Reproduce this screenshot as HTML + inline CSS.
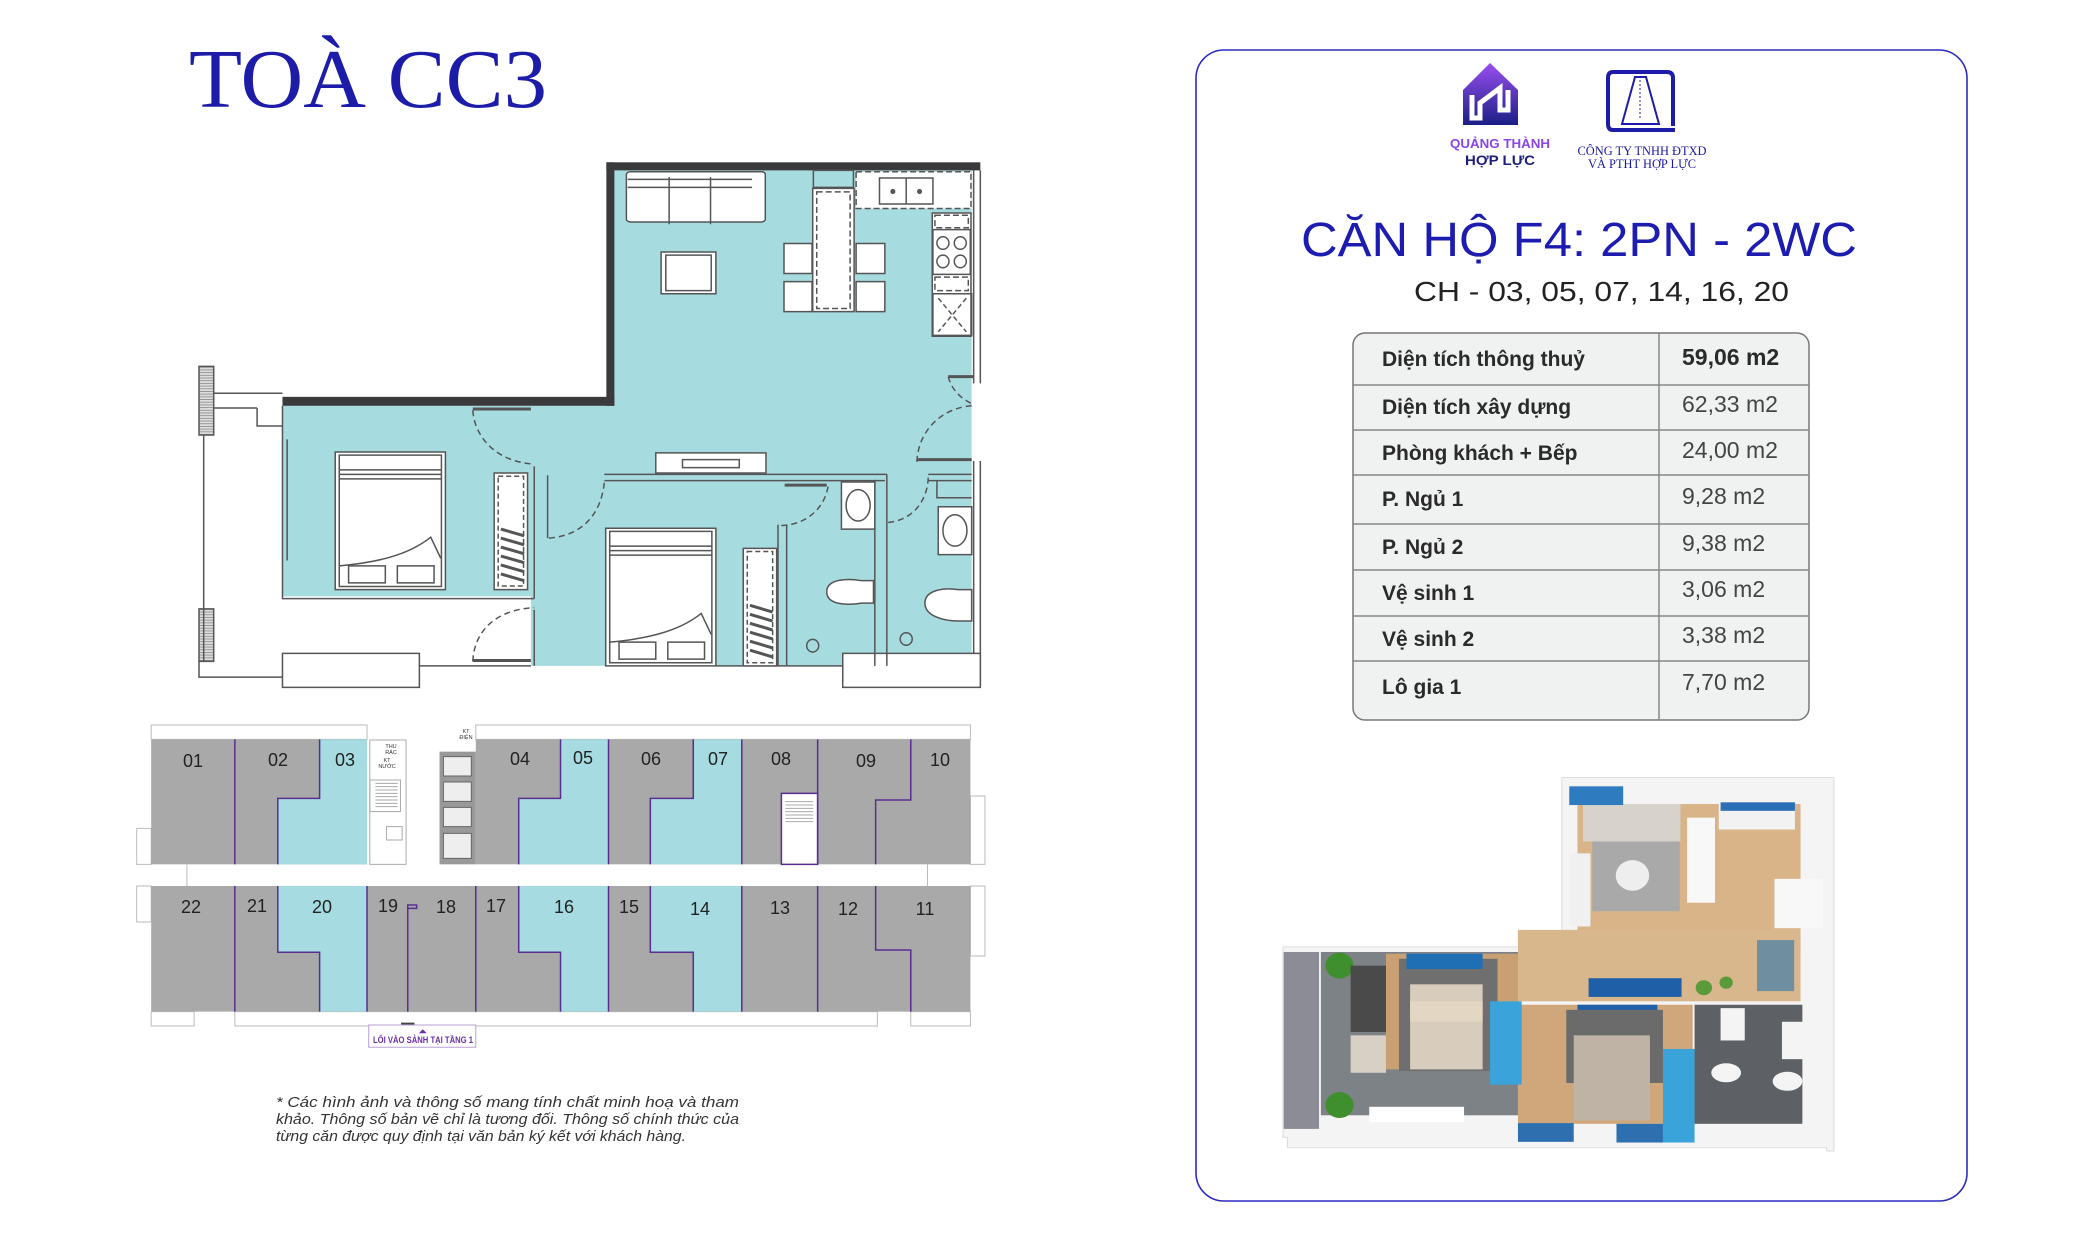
<!DOCTYPE html>
<html><head><meta charset="utf-8"><style>
html,body{margin:0;padding:0;background:#fff;width:2084px;height:1251px;overflow:hidden}
svg{display:block}
</style></head><body>
<svg width="2084" height="1251" viewBox="0 0 2084 1251" xmlns="http://www.w3.org/2000/svg">
<defs>
<linearGradient id="lg1" x1="0" y1="0" x2="0" y2="1"><stop offset="0" stop-color="#9a4ef0"/><stop offset="1" stop-color="#1b1f86"/></linearGradient>
<pattern id="hatch" width="6" height="6" patternUnits="userSpaceOnUse"><rect width="6" height="6" fill="#ddd"/><path d="M0 3H6" stroke="#777" stroke-width="1.5"/></pattern>
</defs>
<rect width="2084" height="1251" fill="#fff"/>

<!-- Title -->
<text x="189" y="107" font-family="Liberation Serif, serif" font-size="84" fill="#1c1ca8" textLength="358" lengthAdjust="spacingAndGlyphs">TOÀ CC3</text>

<!-- Floor plan (zoom1 coords) -->
<g transform="scale(0.6678,0.4484)" stroke="#555" stroke-width="1.5" fill="none">
 <g vector-effect="non-scaling-stroke">
  <polygon points="918,380 1455,380 1455,1485 795,1485 795,1330 423,1330 423,905 918,905" fill="#a6dbe0" stroke="none"/>
  <rect x="908" y="362" width="560" height="18" fill="#3a3a3c" stroke="none"/>
  <rect x="908" y="362" width="12" height="543" fill="#3a3a3c" stroke="none"/>
  <rect x="423" y="885" width="497" height="20" fill="#3a3a3c" stroke="none"/>
 </g>
 <g style="vector-effect:non-scaling-stroke">
  <path vector-effect="non-scaling-stroke" d="M1458 380V855 M1468 380V855 M1458 1028V1530 M1468 1028V1530"/>
  <rect vector-effect="non-scaling-stroke" x="298" y="817" width="22" height="153" fill="url(#hatch)"/>
  <rect vector-effect="non-scaling-stroke" x="298" y="1358" width="22" height="117" fill="url(#hatch)"/>
  <path vector-effect="non-scaling-stroke" d="M305 970V1475 M320 877H423 M320 910H385 M298 1475V1510H423 M385 910V950H423"/>
  <rect vector-effect="non-scaling-stroke" x="423" y="1457" width="205" height="76" fill="#fff"/>
  <rect vector-effect="non-scaling-stroke" x="1262" y="1457" width="206" height="76" fill="#fff"/>
  <path vector-effect="non-scaling-stroke" d="M628 1485H795 M1072 1485H1262"/>
  <path vector-effect="non-scaling-stroke" d="M423 905V1335H800 M430 980V1250 M800 1040V1335 M800 1360V1485 M820 1060V1200"/>
  <path vector-effect="non-scaling-stroke" d="M905 1058H1328 M905 1072H1325 M1310 1070V1485 M1328 1058V1485 M1165 1170V1485 M1178 1170V1485 M1390 1058H1455 M1390 1072H1455 M1403 1072V1110H1455"/>
  <rect vector-effect="non-scaling-stroke" x="938" y="383" width="208" height="112" fill="#fff" rx="6"/>
  <path vector-effect="non-scaling-stroke" d="M940 400H1126 M940 418H1126 M1002 395V500 M1064 395V500"/>
  <rect vector-effect="non-scaling-stroke" x="990" y="562" width="82" height="93" fill="#fff"/><rect vector-effect="non-scaling-stroke" x="997" y="569" width="68" height="79"/>
  <rect vector-effect="non-scaling-stroke" x="1174" y="543" width="42" height="67" fill="#fff"/><rect vector-effect="non-scaling-stroke" x="1282" y="543" width="43" height="67" fill="#fff"/>
  <rect vector-effect="non-scaling-stroke" x="1174" y="628" width="42" height="67" fill="#fff"/><rect vector-effect="non-scaling-stroke" x="1282" y="628" width="43" height="67" fill="#fff"/>
  <rect vector-effect="non-scaling-stroke" x="1217" y="420" width="62" height="275" fill="#fff"/>
  <rect vector-effect="non-scaling-stroke" x="1223" y="428" width="50" height="260" stroke-dasharray="6 3"/>
  <rect vector-effect="non-scaling-stroke" x="1218" y="380" width="60" height="38" fill="#a6dbe0"/>
  <rect vector-effect="non-scaling-stroke" x="1282" y="383" width="172" height="82" fill="#fff" stroke-dasharray="6 3"/>
  <rect vector-effect="non-scaling-stroke" x="1317" y="397" width="80" height="58"/><path vector-effect="non-scaling-stroke" d="M1357 397V455"/>
  <ellipse cx="1337" cy="427" rx="3" ry="5" fill="#555"/><ellipse cx="1377" cy="427" rx="3" ry="5" fill="#555"/>
  <rect vector-effect="non-scaling-stroke" x="1396" y="475" width="58" height="275" fill="#fff"/>
  <rect vector-effect="non-scaling-stroke" x="1400" y="480" width="50" height="28" stroke-dasharray="6 3"/>
  <rect vector-effect="non-scaling-stroke" x="1397" y="512" width="56" height="100"/>
  <ellipse vector-effect="non-scaling-stroke" cx="1412" cy="542" rx="9" ry="14"/><ellipse vector-effect="non-scaling-stroke" cx="1438" cy="542" rx="9" ry="14"/><ellipse vector-effect="non-scaling-stroke" cx="1412" cy="583" rx="9" ry="14"/><ellipse vector-effect="non-scaling-stroke" cx="1438" cy="583" rx="9" ry="14"/>
  <rect vector-effect="non-scaling-stroke" x="1400" y="618" width="50" height="30" stroke-dasharray="6 3"/>
  <rect vector-effect="non-scaling-stroke" x="1397" y="655" width="58" height="93"/><path vector-effect="non-scaling-stroke" d="M1405 665L1447 740 M1447 665L1405 740" stroke-dasharray="5 3"/>
  <rect vector-effect="non-scaling-stroke" x="502" y="1008" width="165" height="307" fill="#fff"/>
  <rect vector-effect="non-scaling-stroke" x="508" y="1015" width="153" height="293"/>
  <path vector-effect="non-scaling-stroke" d="M508 1048H661 M508 1058H661 M508 1068H661 M508 1262C560 1255 610 1240 645 1198 L660 1245"/>
  <rect vector-effect="non-scaling-stroke" x="522" y="1262" width="55" height="38"/><rect vector-effect="non-scaling-stroke" x="595" y="1262" width="55" height="38"/>
  <rect vector-effect="non-scaling-stroke" x="740" y="1055" width="50" height="260" fill="#fff"/><rect vector-effect="non-scaling-stroke" x="746" y="1062" width="38" height="245" stroke-dasharray="5 3"/>
  <path vector-effect="non-scaling-stroke" stroke-width="3" d="M750 1180L785 1195M750 1200L785 1215M750 1220L785 1235M750 1240L785 1255M750 1260L785 1275M750 1280L785 1295"/>
  <rect vector-effect="non-scaling-stroke" x="907" y="1178" width="165" height="307" fill="#fff"/>
  <rect vector-effect="non-scaling-stroke" x="913" y="1185" width="153" height="293"/>
  <path vector-effect="non-scaling-stroke" d="M913 1218H1066 M913 1228H1066 M913 1238H1066 M913 1432C965 1425 1015 1410 1050 1368 L1065 1415"/>
  <rect vector-effect="non-scaling-stroke" x="927" y="1432" width="55" height="38"/><rect vector-effect="non-scaling-stroke" x="1000" y="1432" width="55" height="38"/>
  <rect vector-effect="non-scaling-stroke" x="1113" y="1223" width="50" height="262" fill="#fff"/><rect vector-effect="non-scaling-stroke" x="1119" y="1230" width="38" height="248" stroke-dasharray="5 3"/>
  <path vector-effect="non-scaling-stroke" stroke-width="3" d="M1123 1350L1157 1365M1123 1370L1157 1385M1123 1390L1157 1405M1123 1410L1157 1425M1123 1430L1157 1445M1123 1450L1157 1465"/>
  <rect vector-effect="non-scaling-stroke" x="982" y="1010" width="165" height="45" fill="#fff"/><rect vector-effect="non-scaling-stroke" x="1022" y="1025" width="85" height="18"/>
  <rect vector-effect="non-scaling-stroke" x="1260" y="1075" width="50" height="105" fill="#fff"/><ellipse vector-effect="non-scaling-stroke" cx="1285" cy="1127" rx="18" ry="35"/>
  <rect vector-effect="non-scaling-stroke" x="1405" y="1130" width="50" height="107" fill="#fff"/><ellipse vector-effect="non-scaling-stroke" cx="1430" cy="1183" rx="18" ry="35"/>
  <path vector-effect="non-scaling-stroke" d="M1238 1320C1238 1290 1270 1290 1290 1295H1308V1345H1290C1270 1350 1238 1350 1238 1320Z" fill="#fff"/>
  <path vector-effect="non-scaling-stroke" d="M1385 1345C1385 1315 1415 1310 1435 1315H1455V1385H1435C1415 1385 1385 1375 1385 1345Z" fill="#fff"/>
  <ellipse vector-effect="non-scaling-stroke" cx="1217" cy="1440" rx="9" ry="14"/><ellipse vector-effect="non-scaling-stroke" cx="1357" cy="1425" rx="9" ry="14"/>
  <g stroke-dasharray="6 4">
    <path vector-effect="non-scaling-stroke" d="M708 915C710 970 740 1030 800 1035"/>
    <path vector-effect="non-scaling-stroke" d="M822 1200C870 1195 900 1150 905 1075"/>
    <path vector-effect="non-scaling-stroke" d="M1170 1172C1210 1170 1235 1130 1240 1085"/>
    <path vector-effect="non-scaling-stroke" d="M1330 1165C1370 1160 1390 1110 1390 1062"/>
    <path vector-effect="non-scaling-stroke" d="M1373 1030C1375 960 1410 910 1455 905"/>
    <path vector-effect="non-scaling-stroke" d="M1420 840C1425 870 1440 890 1455 900"/>
    <path vector-effect="non-scaling-stroke" d="M708 1475C710 1410 740 1360 800 1355"/>
  </g>
  <path vector-effect="non-scaling-stroke" stroke-width="3" d="M708 912H795 M1373 1025H1455 M1420 840H1458 M1175 1082H1238 M708 1473H795"/>
 </g>
</g>

<!-- Key plan (zoom3 coords: x*0.5577+130, y/3+720) -->
<g transform="translate(130,720) scale(0.5577,0.3333)">
  <g fill="none" stroke="#bbb" stroke-width="1" >
    <rect vector-effect="non-scaling-stroke" x="38" y="15" width="387" height="43"/><rect vector-effect="non-scaling-stroke" x="620" y="15" width="887" height="43"/>
    <rect vector-effect="non-scaling-stroke" x="188" y="875" width="1152" height="43"/><rect vector-effect="non-scaling-stroke" x="38" y="875" width="77" height="43"/><rect vector-effect="non-scaling-stroke" x="1400" y="875" width="107" height="43"/>
    <rect vector-effect="non-scaling-stroke" x="12" y="325" width="26" height="108"/><rect vector-effect="non-scaling-stroke" x="12" y="498" width="26" height="108"/>
    <rect vector-effect="non-scaling-stroke" x="1507" y="228" width="26" height="205"/><rect vector-effect="non-scaling-stroke" x="1507" y="498" width="26" height="210"/>
    <path vector-effect="non-scaling-stroke" d="M102 433V498 M1430 433V498"/>
  </g>
  <rect x="38" y="58" width="387" height="375" fill="#a9a9a9"/>
  <rect x="620" y="58" width="887" height="375" fill="#a9a9a9"/>
  <rect x="38" y="498" width="1469" height="377" fill="#a9a9a9"/>
  <polygon points="340,58 425,58 425,433 265,433 265,235 340,235" fill="#a6dce1"/>
  <polygon points="772,58 858,58 858,433 697,433 697,235 772,235" fill="#a6dce1"/>
  <polygon points="1010,58 1097,58 1097,433 933,433 933,235 1010,235" fill="#a6dce1"/>
  <polygon points="265,498 425,498 425,875 340,875 340,697 265,697" fill="#a6dce1"/>
  <polygon points="697,498 858,498 858,875 772,875 772,697 697,697" fill="#a6dce1"/>
  <polygon points="933,498 1097,498 1097,875 1010,875 1010,697 933,697" fill="#a6dce1"/>
  <rect vector-effect="non-scaling-stroke" x="1168" y="220" width="65" height="213" fill="#fff" stroke="#5a2d91" stroke-width="1.5"/>
  <g fill="none" stroke="#aaa" stroke-width="1">
    <rect vector-effect="non-scaling-stroke" x="430" y="60" width="65" height="373"/><rect vector-effect="non-scaling-stroke" x="430" y="180" width="55" height="95"/>
    <path vector-effect="non-scaling-stroke" d="M440 190H480M440 200H480M440 210H480M440 220H480M440 230H480M440 240H480M440 250H480M440 260H480"/>
    <rect vector-effect="non-scaling-stroke" x="460" y="320" width="28" height="40"/>
    <path vector-effect="non-scaling-stroke" d="M1175 245H1225M1175 255H1225M1175 265H1225M1175 275H1225M1175 285H1225M1175 295H1225M1175 305H1225"/>
  </g>
  <rect x="555" y="95" width="65" height="338" fill="#999"/>
  <g fill="#eee" stroke="#666" stroke-width="1">
    <rect vector-effect="non-scaling-stroke" x="562" y="110" width="50" height="58"/><rect vector-effect="non-scaling-stroke" x="562" y="186" width="50" height="58"/><rect vector-effect="non-scaling-stroke" x="562" y="262" width="50" height="58"/><rect vector-effect="non-scaling-stroke" x="562" y="340" width="50" height="75"/>
  </g>
  <g fill="none" stroke="#5a2d91" stroke-width="1.5">
    <path vector-effect="non-scaling-stroke" d="M188 58V433 M340 58V235H265V433 M772 58V235H697V433 M858 58V433 M1010 58V235H933V433 M1097 58V433 M1233 58V433 M1400 58V240H1337V433"/>
    <path vector-effect="non-scaling-stroke" d="M188 498V875 M265 498V697H340V875 M425 498V875 M498 565V875 M620 498V875 M697 498V697H772V875 M858 498V875 M933 498V697H1010V875 M1097 498V875 M1233 498V875 M1337 498V690H1400V875"/>
    <rect vector-effect="non-scaling-stroke" x="498" y="555" width="16" height="10"/>
  </g>
  <rect x="486" y="908" width="24" height="8" fill="#444"/>
  <rect vector-effect="non-scaling-stroke" x="428" y="915" width="192" height="67" fill="#fff" stroke="#b9a0d6" stroke-width="1"/>
  <polygon points="518,940 532,940 525,928" fill="#6a2fa8"/>
</g>
<g font-family="Liberation Sans, sans-serif" font-size="5.5" fill="#333" text-anchor="middle">
  <text x="391" y="748">THU</text><text x="391" y="754">RÁC</text><text x="387" y="762">KT</text><text x="387" y="768">NƯỚC</text>
  <text x="466" y="733">KT</text><text x="466" y="739">ĐIỆN</text>
</g>
<g font-family="Liberation Sans Narrow, Liberation Sans, sans-serif" font-size="18" fill="#222" text-anchor="middle">
  <text x="193" y="767">01</text><text x="278" y="766">02</text><text x="345" y="766">03</text><text x="520" y="765">04</text><text x="583" y="764">05</text><text x="651" y="765">06</text><text x="718" y="765">07</text><text x="781" y="765">08</text><text x="866" y="767">09</text><text x="940" y="766">10</text>
  <text x="191" y="913">22</text><text x="257" y="912">21</text><text x="322" y="913">20</text><text x="388" y="912">19</text><text x="446" y="913">18</text><text x="496" y="912">17</text><text x="564" y="913">16</text><text x="629" y="913">15</text><text x="700" y="915">14</text><text x="780" y="914">13</text><text x="848" y="915">12</text><text x="925" y="915">11</text>
</g>
<text x="423" y="1043" font-family="Liberation Sans Narrow, Liberation Sans, sans-serif" font-weight="bold" font-size="9" fill="#6a2fa8" text-anchor="middle" textLength="100" lengthAdjust="spacingAndGlyphs">LỐI VÀO SẢNH TẠI TẦNG 1</text>

<!-- Disclaimer -->
<g font-family="Liberation Sans Narrow, Liberation Sans, sans-serif" font-style="italic" font-size="15" fill="#333">
  <text x="276" y="1107" textLength="463" lengthAdjust="spacingAndGlyphs">* Các hình ảnh và thông số mang tính chất minh hoạ và tham</text>
  <text x="276" y="1124" textLength="463" lengthAdjust="spacingAndGlyphs">khảo. Thông số bản vẽ chỉ là tương đối. Thông số chính thức của</text>
  <text x="276" y="1141" textLength="410" lengthAdjust="spacingAndGlyphs">từng căn được quy định tại văn bản ký kết với khách hàng.</text>
</g>

<!-- Card -->
<rect x="1196" y="50" width="771" height="1151" rx="28" fill="#fff" stroke="#2b2bc0" stroke-width="1.6"/>

<!-- Logo 1 -->
<path d="M1463 90L1490 63L1518 90V125H1463Z" fill="url(#lg1)"/>
<path d="M1472 95V118H1480V103L1500 88V110H1508V90" fill="none" stroke="#fff" stroke-width="5"/>
<text x="1500" y="148" font-family="Liberation Sans, sans-serif" font-weight="bold" font-size="13" fill="#8a45e6" text-anchor="middle" textLength="100" lengthAdjust="spacingAndGlyphs">QUẢNG THÀNH</text>
<text x="1500" y="165" font-family="Liberation Sans, sans-serif" font-weight="bold" font-size="14" fill="#1d1d7a" text-anchor="middle" textLength="70" lengthAdjust="spacingAndGlyphs">HỢP LỰC</text>
<!-- Logo 2 -->
<path d="M1673 126V78Q1673 72 1667 72H1613Q1608 72 1608 78V124Q1608 130 1613 130H1675" fill="none" stroke="#1c1ca8" stroke-width="4"/>
<path d="M1622 124L1635 77H1646L1659 124Z" fill="none" stroke="#1c1ca8" stroke-width="2"/>
<path d="M1640 80V120" stroke="#1c1ca8" stroke-dasharray="2 2"/>
<g font-family="Liberation Serif, serif" font-size="13" fill="#1a1aa0" text-anchor="middle">
  <text x="1642" y="155" textLength="129" lengthAdjust="spacingAndGlyphs">CÔNG TY TNHH ĐTXD</text>
  <text x="1642" y="168" textLength="108" lengthAdjust="spacingAndGlyphs">VÀ PTHT HỢP LỰC</text>
</g>

<!-- Headings -->
<text x="1301" y="256" font-family="Liberation Sans, sans-serif" font-size="48" fill="#1c1cb0" textLength="556" lengthAdjust="spacingAndGlyphs">CĂN HỘ F4: 2PN - 2WC</text>
<text x="1414" y="301" font-family="Liberation Sans, sans-serif" font-size="28" fill="#222" textLength="375" lengthAdjust="spacingAndGlyphs">CH - 03, 05, 07, 14, 16, 20</text>

<!-- Table -->
<rect x="1353" y="333" width="456" height="387" rx="12" fill="#f0f1f1" stroke="#777" stroke-width="1.5"/>
<g stroke="#888" stroke-width="1.5">
  <path d="M1659 333V720 M1353 385H1809 M1353 430H1809 M1353 475H1809 M1353 524H1809 M1353 570H1809 M1353 616H1809 M1353 661H1809"/>
</g>
<g font-family="Liberation Sans, sans-serif" font-size="21" fill="#2a2a2a" font-weight="bold">
  <text x="1382" y="366">Diện tích thông thuỷ</text>
  <text x="1382" y="414">Diện tích xây dựng</text>
  <text x="1382" y="460">Phòng khách + Bếp</text>
  <text x="1382" y="506">P. Ngủ 1</text>
  <text x="1382" y="554">P. Ngủ 2</text>
  <text x="1382" y="600">Vệ sinh 1</text>
  <text x="1382" y="646">Vệ sinh 2</text>
  <text x="1382" y="694">Lô gia 1</text>
  <text x="1682" y="365" font-size="23">59,06 m2</text>
</g>
<g font-family="Liberation Sans, sans-serif" font-size="23" fill="#444">
  <text x="1682" y="412">62,33 m2</text>
  <text x="1682" y="458">24,00 m2</text>
  <text x="1682" y="504">9,28 m2</text>
  <text x="1682" y="551">9,38 m2</text>
  <text x="1682" y="597">3,06 m2</text>
  <text x="1682" y="643">3,38 m2</text>
  <text x="1682" y="690">7,70 m2</text>
</g>

<!-- 3D render (zoom4 coords) -->
<g transform="translate(1280,770) scale(0.3718,0.3402)">
  <path d="M758 22H1490V1120H1470V1110H20V1080H8V520H758Z" fill="#f4f4f4" stroke="#ddd" stroke-width="3"/>
  <rect x="10" y="535" width="95" height="520" fill="#8c8c96"/>
  <rect x="110" y="535" width="530" height="480" fill="#7d8287"/>
  <rect x="800" y="100" width="600" height="440" fill="#d8b488"/>
  <rect x="640" y="470" width="760" height="210" fill="#d9b78c"/>
  <rect x="640" y="690" width="470" height="350" fill="#cfa77a"/>
  <rect x="285" y="540" width="355" height="340" fill="#c9a074"/>
  <rect x="320" y="555" width="265" height="330" fill="#6f6f70"/>
  <rect x="350" y="630" width="195" height="250" fill="#d8cdbd"/>
  <rect x="350" y="680" width="195" height="60" fill="#e3d6c3"/>
  <rect x="340" y="540" width="205" height="45" fill="#1f6fb5"/>
  <rect x="565" y="680" width="85" height="245" fill="#3aa3da"/>
  <rect x="1030" y="820" width="85" height="275" fill="#3aa3da"/>
  <rect x="830" y="612" width="250" height="55" fill="#1f5fa8"/>
  <rect x="800" y="690" width="215" height="50" fill="#1f5fa8"/>
  <rect x="770" y="705" width="260" height="215" fill="#6b6b6b"/>
  <rect x="790" y="780" width="205" height="250" fill="#bfb3a6"/>
  <rect x="640" y="1038" width="150" height="55" fill="#2e6fb0"/>
  <rect x="905" y="1040" width="125" height="55" fill="#2e6fb0"/>
  <rect x="1115" y="690" width="290" height="350" fill="#5d6064"/>
  <rect x="1185" y="700" width="65" height="95" fill="#f4f4f4"/>
  <rect x="1350" y="740" width="70" height="110" fill="#f4f4f4"/>
  <ellipse cx="1200" cy="890" rx="40" ry="28" fill="#f4f4f4"/>
  <ellipse cx="1365" cy="915" rx="40" ry="28" fill="#f4f4f4"/>
  <rect x="840" y="210" width="235" height="205" fill="#a9a9a9"/>
  <rect x="815" y="100" width="262" height="110" fill="#d7d2cb"/>
  <circle cx="948" cy="310" r="45" fill="#eee"/>
  <rect x="778" y="48" width="145" height="55" fill="#2e7bc0"/>
  <rect x="1095" y="140" width="75" height="250" fill="#f8f8f8"/>
  <rect x="1180" y="95" width="205" height="80" fill="#f2f2f2"/>
  <rect x="1185" y="95" width="200" height="25" fill="#2a6fb5"/>
  <rect x="1330" y="320" width="130" height="145" fill="#f8f8f8"/>
  <rect x="1283" y="500" width="100" height="150" fill="#6f8ea0"/>
  <rect x="780" y="245" width="55" height="215" fill="#f0f0f0"/>
  <circle cx="160" cy="575" r="38" fill="#3f8f2f"/><circle cx="160" cy="985" r="38" fill="#3f8f2f"/>
  <circle cx="1140" cy="640" r="22" fill="#5a9a3a"/><circle cx="1200" cy="625" r="18" fill="#5a9a3a"/>
  <rect x="190" y="575" width="95" height="195" fill="#4a4a4a"/>
  <rect x="190" y="780" width="95" height="110" fill="#d8cfc5"/>
  <rect x="240" y="990" width="255" height="45" fill="#fff"/>
</g>
</svg>
</body></html>
